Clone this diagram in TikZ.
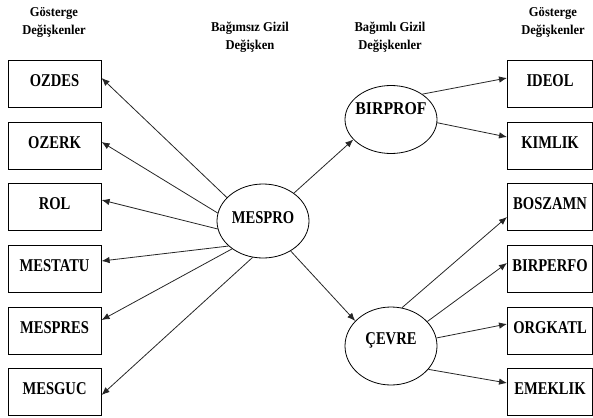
\documentclass[tikz,border=0pt]{standalone}
\usepackage{fontspec}
\setmainfont{Liberation Serif}
\usetikzlibrary{arrows.meta,shapes.geometric}
\newcommand{\lab}[1]{\scalebox{0.81}[1]{#1}}
\begin{document}
\begin{tikzpicture}[x=1pt,y=-1pt,
  box/.style={draw=black,line width=1.1pt,minimum height=47pt,inner sep=0pt,anchor=north west,
    font=\fontsize{18}{18}\selectfont\bfseries,text height=12.5pt,text depth=7pt},
  lbox/.style={box,minimum width=93pt},
  rbox/.style={box,minimum width=85pt},
  ell/.style={draw=black,line width=0.8pt,ellipse,inner sep=0pt,minimum width=92pt},
  lbl/.style={font=\fontsize{18}{18}\selectfont\bfseries,inner sep=0pt},
  hdr/.style={align=center,font=\fontsize{13.5}{18}\selectfont\bfseries,inner sep=0pt},
  arr/.style={-{Latex[length=8pt,width=6.5pt]},line width=0.8pt,draw=black!85}]
\useasboundingbox (0,0) rectangle (593,417);
% headers
\node[hdr] (h1) at (54,22) {\scalebox{0.93}[1]{Gösterge}\\\scalebox{0.93}[1]{Değişkenler}};
\node[hdr] (h2) at (250,37) {\scalebox{0.93}[1]{Bağımsız Gizil}\\\scalebox{0.93}[1]{Değişken}};
\node[hdr] (h3) at (390,37.5) {\scalebox{0.93}[1]{Bağımlı Gizil}\\\scalebox{0.93}[1]{Değişkenler}};
\node[hdr] (h4) at (553,22) {\scalebox{0.93}[1]{Gösterge}\\\scalebox{0.93}[1]{Değişkenler}};
% left boxes
\node[lbox] (ozdes) at (7.5,60) {\lab{OZDES}};
\node[lbox] (ozerk) at (7.5,122) {\lab{OZERK}};
\node[lbox] (rol) at (7.5,183) {\lab{ROL}};
\node[lbox] (mestatu) at (7.5,245) {\lab{MESTATU}};
\node[lbox] (mespres) at (7.5,307) {\lab{MESPRES}};
\node[lbox] (mesguc) at (7.5,368) {\lab{MESGUC}};
% right boxes
\node[rbox] (ideol) at (507,60) {\lab{IDEOL}};
\node[rbox] (kimlik) at (507,122) {\lab{KIMLIK}};
\node[rbox] (boszamn) at (507,183) {\lab{BOSZAMN}};
\node[rbox] (birperfo) at (507,245) {\lab{BIRPERFO}};
\node[rbox] (orgkatl) at (507,307) {\lab{ORGKATL}};
\node[rbox] (emeklik) at (507,368) {\lab{EMEKLIK}};
% ellipses
\node[ell,minimum height=74pt] (mespro) at (263,221) {};
\node[lbl] (mesprot) at (263,217.5) {\lab{MESPRO}};
\node[ell,minimum height=68pt] (birprof) at (391,119.5) {};
\node[lbl] (birproft) at (391,108.5) {\scalebox{0.88}[1]{BIRPROF}};
\node[ell,minimum height=78pt] (cevre) at (391,346) {};
\node[lbl] (cevret) at (391,340) {\lab{ÇEVRE}};
% arrows from MESPRO to indicators
\draw[arr] (mespro.147) -- ([yshift=-18pt]ozdes.north east);
\draw[arr] (mespro.170) -- ([yshift=-20pt]ozerk.north east);
\draw[arr] (mespro.190) -- ([yshift=-17pt]rol.north east);
\draw[arr] (mespro.216) -- ([yshift=-16pt]mestatu.north east);
\draw[arr] (mespro.222) -- ([yshift=-13pt]mespres.north east);
\draw[arr] (mespro.254) -- ([yshift=-27pt]mesguc.north east);
% MESPRO to latent
\draw[arr] (mespro) -- (birprof.208);
\draw[arr] (mespro) -- (cevre.145);
% BIRPROF indicators
\draw[arr] (birprof.39) -- ([yshift=-18pt]ideol.north west);
\draw[arr] (birprof.-4) -- ([yshift=-15pt]kimlik.north west);
% CEVRE indicators
\draw[arr] (cevre.74) -- ([yshift=-34pt]boszamn.north west);
\draw[arr] (cevre.34) -- ([yshift=-18pt]birperfo.north west);
\draw[arr] (cevre.10) -- ([yshift=-17pt]orgkatl.north west);
\draw[arr] (cevre.-32) -- ([yshift=-15pt]emeklik.north west);
\end{tikzpicture}
\end{document}
